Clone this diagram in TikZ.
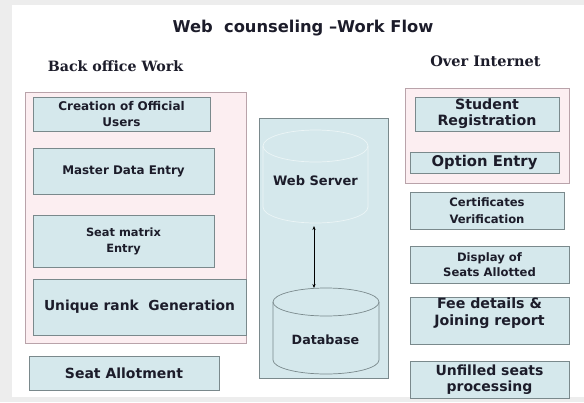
\documentclass[tikz,border=0pt]{standalone}
\usepackage{fontspec}
\setmainfont{DejaVu Sans}
\newfontfamily\headfont{DejaVu Serif}
\usetikzlibrary{arrows.meta}

\definecolor{boxblue}{HTML}{D5E8EC}
\definecolor{boxline}{HTML}{7A898C}
\definecolor{panelpink}{HTML}{FCEEF1}
\definecolor{panelline}{HTML}{B9A3AA}
\definecolor{inktext}{HTML}{1C1C2A}

\newcommand{\fsz}[2]{\bfseries\fontsize{#1}{#2}\selectfont}

\tikzset{
  panel/.style={draw=panelline, fill=panelpink, line width=0.8pt},
  task/.style={draw=boxline, fill=boxblue, line width=0.9pt, align=center,
    text=inktext, inner sep=0pt, font=\bfseries},
  drum/.style={fill=boxblue, draw=#1, line width=0.7pt},
  heading/.style={text=inktext, font=\headfont\fsz{14.2}{16}}
}

\begin{document}
\begin{tikzpicture}[x=1pt,y=-1pt]
\useasboundingbox (0,0) rectangle (584,402);
\fill[gray!14] (0,0) rectangle (584,402);
\fill[white] (12,5) rectangle (584,397);

% titles
\node (title) [text=inktext, font=\fsz{16.3}{18}] at (303,28) {Web\ \ counseling --Work Flow};
\node (backhead) [heading] at (115.5,66) {Back office Work};
\node (nethead) [heading, font=\headfont\fsz{14.5}{16}] at (485.5,61) {Over Internet};

% back office
\draw[panel] (25,92) rectangle (246,343);
\node (creation) [task, minimum width=177, minimum height=34, font=\fsz{12}{16}] at (121.5,114) {Creation of Official\\Users};
\node (master) [task, minimum width=181, minimum height=46, font=\fsz{11.9}{14}] at (123.5,171) {Master Data Entry};
\node (matrix) [task, minimum width=181, minimum height=52, font=\fsz{11.4}{16}] at (123.5,241) {Seat matrix\\Entry};
\node (rank) [task, minimum width=213, minimum height=56, font=\fsz{13.8}{16}] at (139.5,307) {Unique rank\ \ Generation};
\node (allot) [task, minimum width=190, minimum height=34, font=\fsz{14}{16}] at (124,373) {Seat Allotment};

% server
\draw[draw=boxline, fill=boxblue, line width=0.8pt] (259,118) rectangle (388,378);
% web server drum (faint)
\draw[drum=boxblue!45!white] (263,146) -- (263,207) arc[start angle=180, end angle=360, x radius=52.5pt, y radius=16pt]
  -- (368,146) arc[start angle=0, end angle=180, x radius=52.5pt, y radius=16pt] -- cycle;
\draw[boxblue!45!white, line width=0.7pt] (263,146) arc[start angle=180, end angle=360, x radius=52.5pt, y radius=16pt];
\node (websrv) [text=inktext, font=\fsz{13}{15}] at (315.5,181) {Web Server};
% database drum
\draw[drum=boxline] (273,302) -- (273,360) arc[start angle=180, end angle=360, x radius=53pt, y radius=14pt]
  -- (379,302) arc[start angle=0, end angle=180, x radius=53pt, y radius=14pt] -- cycle;
\draw[boxline, line width=0.7pt] (273,302) arc[start angle=180, end angle=360, x radius=53pt, y radius=14pt];
\node (db) [text=inktext, font=\fsz{12.7}{15}] at (325.5,340) {Database};
\coordinate (srvfoot) at (314,226);
\coordinate (dbhead) at (314,288);
\draw[<->, >={Stealth[length=4pt,width=3.2pt]}, line width=0.6pt] (srvfoot) -- (dbhead);

% over internet
\draw[panel] (405,88) rectangle (569,183);
\node (student) [task, minimum width=144, minimum height=34, font=\fsz{14.2}{16}] at (487,114) {Student\\Registration};
\node (option) [task, minimum width=149, minimum height=21, font=\fsz{14.8}{16}] at (484.5,162.5) {Option Entry};
\node (certif) [task, minimum width=154, minimum height=37, font=\fsz{11.6}{17}] at (487,210.5) {Certificates\\Verification};
\node (display) [task, minimum width=159, minimum height=37, font=\fsz{11.6}{15}] at (489.5,264.5) {Display of\\Seats Allotted};
\node (fee) [task, minimum width=159, minimum height=47] at (489.5,320.5) {};
\node (feetext) [anchor=north, align=center, text=inktext, inner sep=0pt, font=\fsz{14.2}{17}] at ([yshift=-1pt]fee.north) {Fee details \&\\Joining report};
\node (unfilled) [task, minimum width=159, minimum height=37, font=\fsz{14}{15.5}] at (489.5,379.5) {Unfilled seats\\processing};
\end{tikzpicture}
\end{document}
